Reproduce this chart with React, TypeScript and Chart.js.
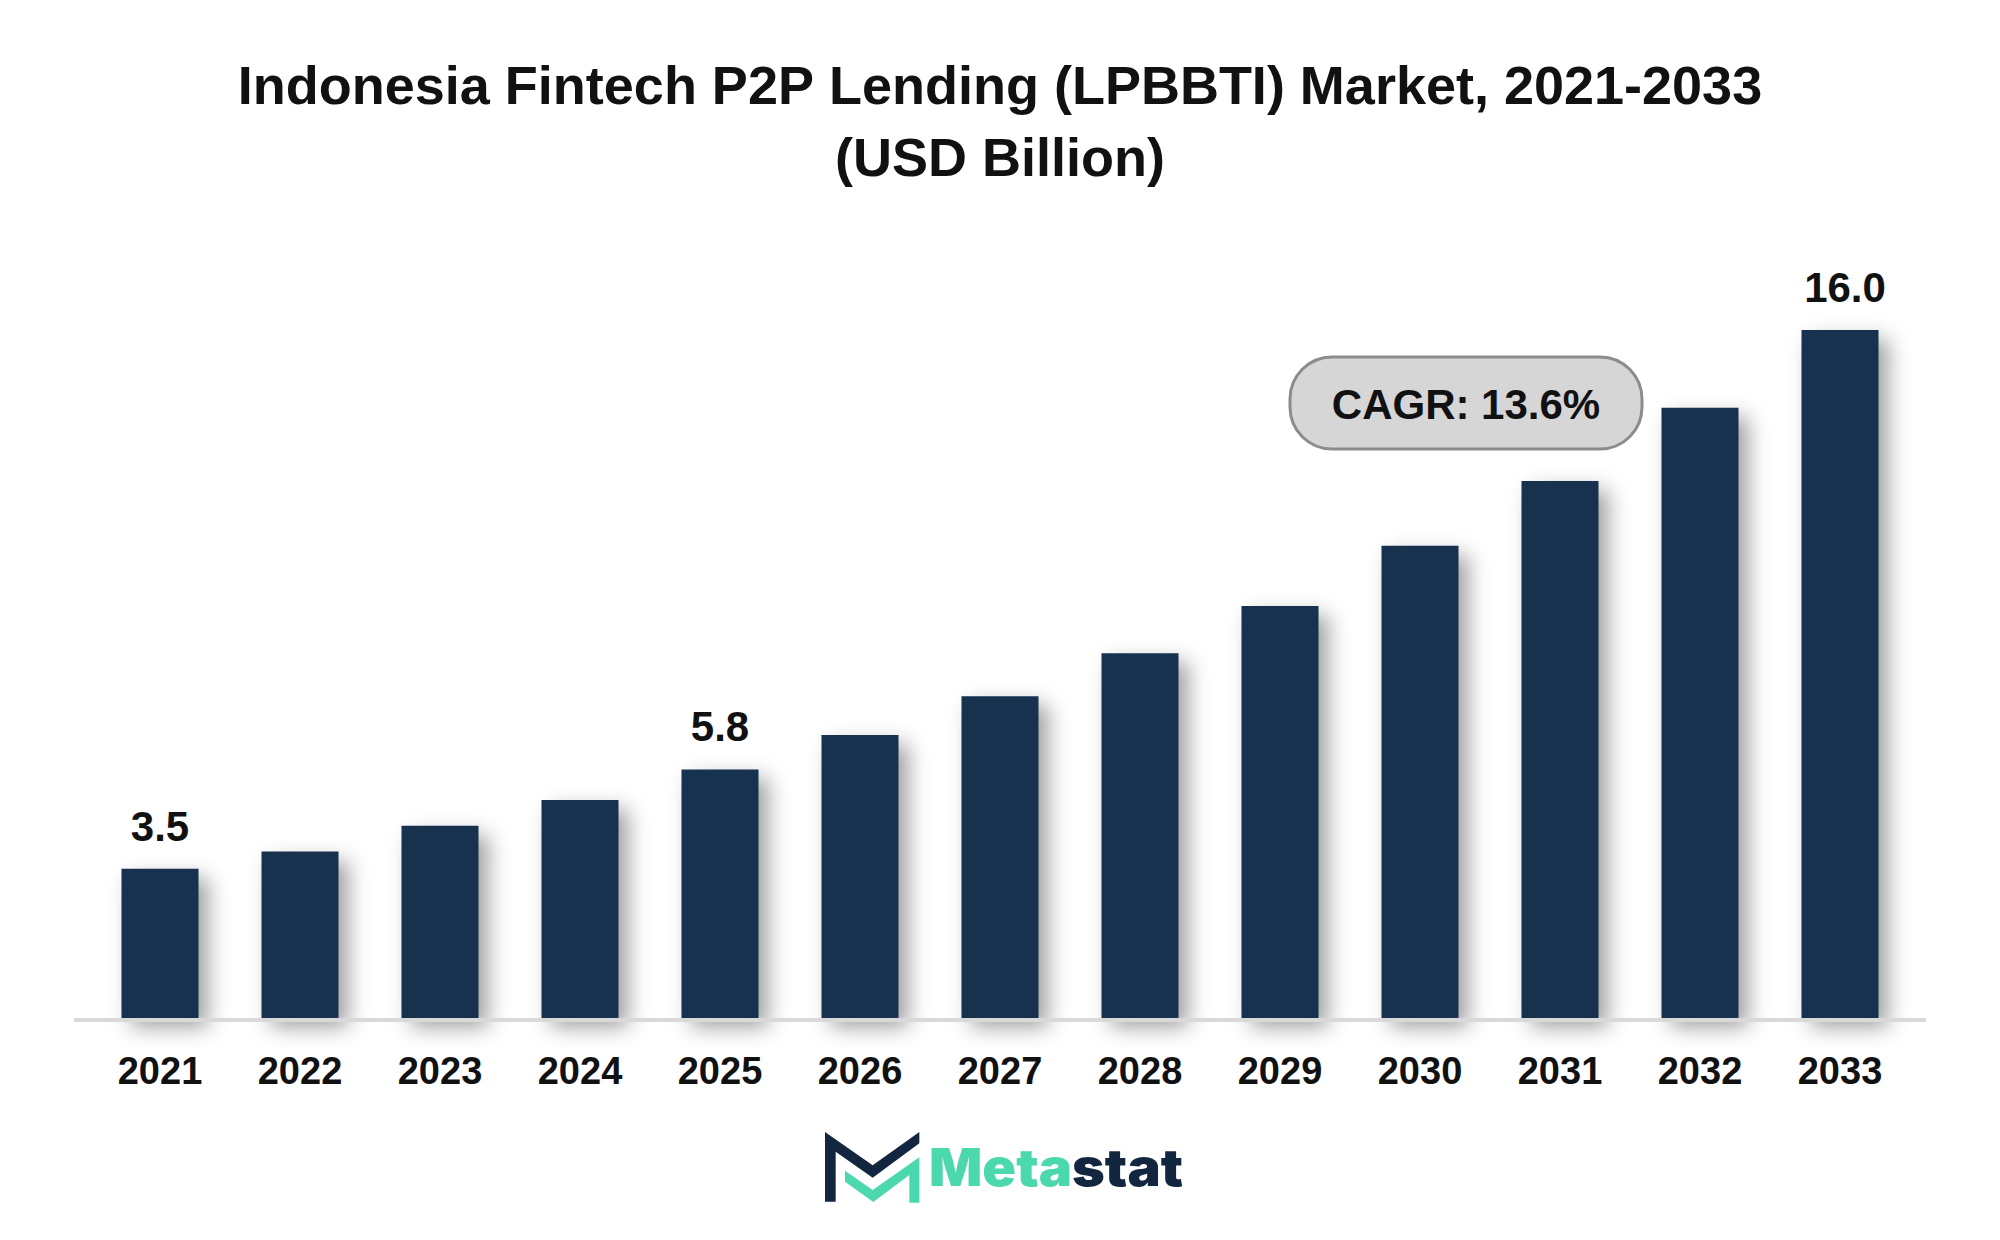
import React, { useEffect, useRef } from "react";
import { Chart, registerables } from "chart.js";

Chart.register(...registerables);

const years = ["2021", "2022", "2023", "2024", "2025", "2026", "2027", "2028", "2029", "2030", "2031", "2032", "2033"];
const marketValues = [3.47, 3.87, 4.47, 5.07, 5.78, 6.58, 7.48, 8.48, 9.58, 10.98, 12.49, 14.19, 16.0];
const shownValues = ["3.5", "5.8", "16.0"];
const labelledYears = ["2021", "2025", "2033"];
const chartTitle = ["Indonesia Fintech P2P Lending (LPBBTI) Market, 2021-2033", "(USD Billion)"];
const cagrText = "CAGR: 13.6%";
const brandParts = ["Meta", "stat"];

const NAVY = "#17324f";
const INK = "#111111";
const LOGO_NAVY = "#12263f";
const LOGO_GREEN = "#4bd8ac";
const FONT = '"Liberation Sans"';

const poly = (ctx: CanvasRenderingContext2D, pts: number[][], color: string) => {
  ctx.beginPath();
  pts.forEach(([x, y], i) => {
    const px = 780 + x / 3;
    const py = 1100 + y / 3;
    if (i === 0) ctx.moveTo(px, py);
    else ctx.lineTo(px, py);
  });
  ctx.closePath();
  ctx.fillStyle = color;
  ctx.fill();
};

const decor = {
  id: "decor",
  beforeDraw(chart: any) {
    const ctx = chart.ctx;
    ctx.save();
    ctx.fillStyle = "#ffffff";
    ctx.fillRect(0, 0, chart.width, chart.height);
    ctx.restore();
  },
  beforeDatasetsDraw(chart: any) {
    const ctx = chart.ctx;
    ctx.save();
    ctx.shadowColor = "rgba(0,0,0,0.38)";
    ctx.shadowOffsetX = 9;
    ctx.shadowOffsetY = 9;
    ctx.shadowBlur = 20;
  },
  afterDatasetsDraw(chart: any) {
    const ctx = chart.ctx;
    ctx.restore();
    const area = chart.chartArea;
    ctx.save();
    // axis line
    ctx.fillStyle = "#d9d9d9";
    ctx.fillRect(area.left - 16, area.bottom, area.right - area.left + 32, 4);

    // value labels
    const meta = chart.getDatasetMeta(0);
    ctx.fillStyle = INK;
    ctx.font = `bold 42px ${FONT}`;
    ctx.textAlign = "center";
    ctx.textBaseline = "alphabetic";
    labelledYears.forEach((year, k) => {
      const bar = meta.data[years.indexOf(year)];
      const nudge = shownValues[k].length > 3 ? 5 : 0;
      ctx.fillText(shownValues[k], bar.x + nudge, bar.y - 28);
    });

    // CAGR pill
    ctx.beginPath();
    ctx.roundRect(1290, 357, 352, 92, 42);
    ctx.fillStyle = "#d6d6d6";
    ctx.fill();
    ctx.lineWidth = 3;
    ctx.strokeStyle = "#8c8c8c";
    ctx.stroke();
    ctx.fillStyle = INK;
    ctx.font = `bold 42px ${FONT}`;
    ctx.fillText(cagrText, 1466, 419);

    // logo mark
    poly(ctx, [[135, 96], [278, 196], [418, 96], [418, 130], [278, 233], [167, 155], [167, 305], [135, 305]], LOGO_NAVY);
    poly(ctx, [[195, 212], [278, 270], [418, 172], [418, 308], [388, 308], [388, 225], [280, 306], [195, 245]], LOGO_GREEN);

    // logo word, stretched to the width of the wordmark
    ctx.textAlign = "left";
    ctx.font = `900 52px Inter`;
    const w0 = ctx.measureText(brandParts[0]).width;
    const w1 = ctx.measureText(brandParts[1]).width;
    const sx = 254 / (w0 + w1);
    ctx.translate(929, 1186);
    ctx.scale(sx, 1);
    ctx.fillStyle = LOGO_GREEN;
    ctx.fillText(brandParts[0], 0, 0);
    ctx.fillStyle = LOGO_NAVY;
    ctx.fillText(brandParts[1], w0, 0);
    ctx.restore();
  },
};

export default function App() {
  const ref = useRef<HTMLCanvasElement>(null);
  useEffect(() => {
    ref.current!.getContext("2d", { alpha: false });
    const chart = new Chart(ref.current!, {
      type: "bar",
      data: {
        labels: years,
        datasets: [
          {
            data: marketValues,
            backgroundColor: NAVY,
            barPercentage: 0.55,
            categoryPercentage: 1,
            clip: false as any,
          },
        ],
      },
      options: {
        responsive: false,
        animation: false,
        devicePixelRatio: 1,
        layout: { padding: { left: 90, right: 90, top: 0, bottom: 0 } },
        plugins: {
          legend: { display: false },
          tooltip: { enabled: false },
          title: {
            display: true,
            text: chartTitle,
            color: INK,
            font: { family: FONT, size: 54, weight: "bold", lineHeight: 72 / 54 },
            padding: { top: 53, bottom: 90 },
          },
        },
        scales: {
          x: {
            grid: { display: false, drawTicks: false },
            border: { display: false },
            ticks: {
              color: INK,
              font: { family: FONT, size: 38, weight: "bold" },
              padding: 33,
              autoSkip: false,
              maxRotation: 0,
            },
            afterFit(scale: any) {
              scale.height = 222;
            },
          },
          y: { display: false, min: 0, max: 17 },
        },
      },
      plugins: [decor],
    } as any);
    return () => chart.destroy();
  }, []);
  return (
    <div style={{ position: "absolute", left: 0, top: 0, width: 2000, height: 1240, background: "#fff" }}>
      <canvas ref={ref} width={2000} height={1240} style={{ display: "block" }} />
    </div>
  );
}
